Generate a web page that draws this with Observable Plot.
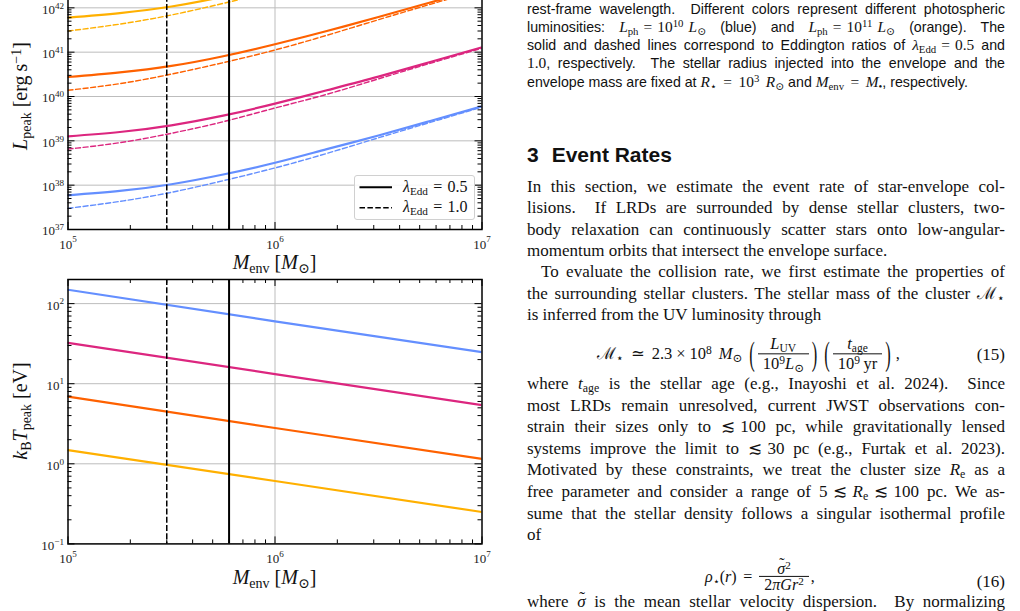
<!DOCTYPE html>
<html><head><meta charset="utf-8">
<script src="https://cdn.jsdelivr.net/npm/d3@7"></script>
<script src="https://cdn.jsdelivr.net/npm/@observablehq/plot@0.6"></script>
<style>
html,body{margin:0;padding:0;background:#fff;width:1020px;height:611px;overflow:hidden;position:relative}
.chart{position:absolute;left:0;width:490px}
.lab{position:absolute;font-family:"Liberation Serif","DejaVu Serif",serif;font-size:20px;line-height:1;white-space:nowrap;color:#111}
.xlab{transform:translate(-50%,-50%)}
.ylab{transform:translate(-50%,-50%) rotate(-90deg)}
sub{font-size:70%;vertical-align:-0.25em;line-height:0}
sup{font-size:70%;vertical-align:0.45em;line-height:0}
#legend{position:absolute;left:354px;top:174.5px;width:119px;height:43px;border:1px solid #d0d0d0;border-radius:3px;background:rgba(255,255,255,0.85)}
#legend svg{position:absolute;left:0;top:0}
#legend .lt{position:absolute;left:48px;font-family:"Liberation Serif","DejaVu Serif",serif;font-size:16px;line-height:1;white-space:nowrap;color:#111}
.ln{position:absolute;left:527px;width:478px;line-height:1;text-align:justify;text-align-last:justify;color:#111}
.ln.end{text-align-last:left}
.cap{font-family:"Liberation Sans",Arial,sans-serif;font-size:14.2px;height:14.2px}
.cap .m{font-family:"Liberation Serif","DejaVu Serif",serif;font-size:15.4px;line-height:0}
.body{font-family:"Liberation Serif","DejaVu Serif",serif;font-size:17px;height:17px}
.m{line-height:0}
h2{position:absolute;left:527px;top:143.9px;margin:0;font-family:"Liberation Sans",Arial,sans-serif;font-weight:bold;font-size:21px;line-height:1;white-space:nowrap;color:#111}
.eq{position:absolute;display:flex;align-items:center;transform:translateY(-50%);white-space:nowrap;font-family:"Liberation Serif","DejaVu Serif",serif;font-size:16.5px;line-height:1;color:#111}
.frac{display:inline-flex;flex-direction:column;align-items:stretch;margin:0 2px}
.frac>span{display:block;text-align:center;padding:0 5px;line-height:0.95}
.frac .num{border-bottom:0.9px solid #111;padding-bottom:1px}
.frac .den{padding-top:2px}
.eq16 .frac>span{line-height:0.85}
.eq16 .frac .den{padding-top:1px}
.bp{display:inline-block;transform:scaleY(2.1);line-height:1;font-weight:normal;margin:0 1px}
.eqn{position:absolute;left:527px;width:478px;text-align:right;font-family:"Liberation Serif","DejaVu Serif",serif;font-size:17px;line-height:1;color:#111}
.tl{position:relative;display:inline-block}
.tl::after{content:"˜";position:absolute;left:0.12em;top:-0.28em;font-style:normal}
.sp{display:inline-block;width:0.33em}
.sl{display:inline-block;width:0.42em}
.ss{display:inline-block;width:0.24em}
</style></head><body>
<div id="topChart" class="chart" style="top:-40.7px"></div>
<div id="botChart" class="chart" style="top:268.9px"></div>

<div class="lab xlab" style="left:274.5px;top:262.3px"><i>M</i><sub>env</sub> [<i>M</i><sub>⊙</sub>]</div>
<div class="lab xlab" style="left:274.5px;top:576.5px"><i>M</i><sub>env</sub> [<i>M</i><sub>⊙</sub>]</div>
<div class="lab ylab" style="left:20.3px;top:96.3px"><i>L</i><sub>peak</sub> [erg&#8201;s<sup>−1</sup>]</div>
<div class="lab ylab" style="left:20.3px;top:411.1px"><i>k</i><sub>B</sub><i>T</i><sub>peak</sub> [eV]</div>

<div id="legend">
  <svg width="119" height="43">
    <line x1="4.5" x2="37" y1="11.2" y2="11.2" stroke="#000" stroke-width="2"/>
    <line x1="4.5" x2="37" y1="31.8" y2="31.8" stroke="#000" stroke-width="1.5" stroke-dasharray="5.5,2.4"/>
  </svg>
  <div class="lt" style="top:3.3px"><i>λ</i><sub>Edd</sub><span class="sp"></span>=<span class="sp"></span>0.5</div>
  <div class="lt" style="top:23.9px"><i>λ</i><sub>Edd</sub><span class="sp"></span>=<span class="sp"></span>1.0</div>
</div>

<!-- caption text -->
<div class="ln cap" style="top:1.5px">rest-frame wavelength.&nbsp; Different colors represent different photospheric</div>
<div class="ln cap" style="top:19.8px">luminosities: <span class="m"><i>L</i><sub>ph</sub><span class="sp"></span>=<span class="sp"></span>10<sup>10</sup><span class="sp"></span><i>L</i><sub>⊙</sub></span> (blue) and <span class="m"><i>L</i><sub>ph</sub><span class="sp"></span>=<span class="sp"></span>10<sup>11</sup><span class="sp"></span><i>L</i><sub>⊙</sub></span> (orange). The</div>
<div class="ln cap" style="top:38.1px">solid and dashed lines correspond to Eddington ratios of <span class="m"><i>λ</i><sub>Edd</sub><span class="sp"></span>=<span class="sp"></span>0.5</span> and</div>
<div class="ln cap" style="top:56.4px"><span class="m">1.0</span>, respectively.&nbsp; The stellar radius injected into the envelope and the</div>
<div class="ln cap end" style="top:74.7px">envelope mass are fixed at <span class="m"><i>R</i><sub>⋆</sub><span class="sl"></span>=<span class="sl"></span>10<sup>3</sup><span class="sl"></span><i>R</i><sub>⊙</sub></span> and <span class="m"><i>M</i><sub>env</sub><span class="sl"></span>=<span class="sl"></span><i>M</i><sub>•</sub></span>, respectively.</div>

<h2>3<span style="margin-left:13px">Event Rates</span></h2>

<div class="ln body" style="top:177.5px">In this section, we estimate the event rate of star-envelope col-</div>
<div class="ln body" style="top:199.1px">lisions.&nbsp; If LRDs are surrounded by dense stellar clusters, two-</div>
<div class="ln body" style="top:220.7px">body relaxation can continuously scatter stars onto low-angular-</div>
<div class="ln body end" style="top:242.3px">momentum orbits that intersect the envelope surface.</div>
<div class="ln body" style="top:263px;left:541px;width:464px">To evaluate the collision rate, we first estimate the properties of</div>
<div class="ln body" style="top:284.6px">the surrounding stellar clusters. The stellar mass of the cluster <span class="m">ℳ<sub>⋆</sub></span></div>
<div class="ln body end" style="top:306.2px">is inferred from the UV luminosity through</div>

<div class="eq" style="left:597px;top:354.3px">
  <span style="margin-right:6px">ℳ<sub>⋆</sub><span class="sl"></span>≃<span class="sl"></span>2.3<span class="ss"></span>×<span class="ss"></span>10<sup>8</sup><span class="sl"></span><i>M</i><sub>⊙</sub></span>
  <span class="bp">(</span>
  <span class="frac"><span class="num"><i>L</i><sub>UV</sub></span><span class="den">10<sup>9</sup><i>L</i><sub>⊙</sub></span></span>
  <span class="bp">)</span>
  <span class="bp" style="margin-left:6px">(</span>
  <span class="frac"><span class="num"><i>t</i><sub>age</sub></span><span class="den">10<sup>9</sup>&#8201;yr</span></span>
  <span class="bp">)</span>
  <span style="margin-left:4px">,</span>
</div>
<div class="eqn" style="top:345.8px">(15)</div>

<div class="ln body" style="top:374.9px">where <span class="m"><i>t</i><sub>age</sub></span> is the stellar age (e.g., Inayoshi et al. 2024).&nbsp; Since</div>
<div class="ln body" style="top:396.5px">most LRDs remain unresolved, current JWST observations con-</div>
<div class="ln body" style="top:418.1px">strain their sizes only to <span class="m">≲<span class="sp"></span>100 pc</span>, while gravitationally lensed</div>
<div class="ln body" style="top:439.7px">systems improve the limit to <span class="m">≲<span class="sp"></span>30 pc</span> (e.g., Furtak et al. 2023).</div>
<div class="ln body" style="top:461.3px">Motivated by these constraints, we treat the cluster size <span class="m"><i>R</i><sub>e</sub></span> as a</div>
<div class="ln body" style="top:482.9px">free parameter and consider a range of <span class="m">5<span class="sp"></span>≲<span class="sp"></span><i>R</i><sub>e</sub><span class="sp"></span>≲<span class="sp"></span>100 pc</span>. We as-</div>
<div class="ln body" style="top:504.5px">sume that the stellar density follows a singular isothermal profile</div>
<div class="ln body end" style="top:526.1px">of</div>

<div class="eq eq16" style="left:705px;top:576.5px;font-size:16px">
  <span style="margin-right:5px"><i>ρ</i><sub>⋆</sub>(<i>r</i>)<span class="sl"></span>=</span>
  <span class="frac"><span class="num"><i class="tl">σ</i><sup>2</sup></span><span class="den">2<i>πGr</i><sup>2</sup></span></span>
  <span>,</span>
</div>
<div class="eqn" style="top:572.8px">(16)</div>

<div class="ln body" style="top:593.3px">where <span class="m"><i class="tl">σ</i></span> is the mean stellar velocity dispersion.&nbsp; By normalizing</div>

<script>
// ---------------- data ----------------
const envMass        = [1.0e5, 1.78e5, 3.16e5, 5.62e5, 1.0e6, 1.78e6, 3.16e6, 5.62e6, 1.0e7];
// L_peak [erg/s], lambda_Edd = 0.5 (solid) and 1.0 (dashed)
const lpeakBlue05    = [5.9e37, 7.4e37, 1.05e38, 1.74e38, 3.2e38, 6.5e38, 1.32e39, 2.8e39, 6.0e39];
const lpeakBlue10    = [3.0e37, 4.3e37, 6.9e37, 1.26e38, 2.45e38, 5.2e38, 1.17e39, 2.6e39, 5.8e39];
const lpeakMagenta05 = [1.26e39, 1.58e39, 2.24e39, 3.7e39, 6.9e39, 1.38e40, 2.8e40, 6.0e40, 1.29e41];
const lpeakMagenta10 = [6.5e38, 9.1e38, 1.48e39, 2.7e39, 5.5e39, 1.12e40, 2.5e40, 5.6e40, 1.23e41];
const lpeakOrange05  = [2.75e40, 3.5e40, 4.9e40, 8.1e40, 1.51e41, 3.0e41, 6.2e41, 1.32e42, 2.8e42];
const lpeakOrange10  = [1.38e40, 1.95e40, 3.2e40, 5.8e40, 1.12e41, 2.4e41, 5.4e41, 1.2e42, 2.6e42];
const lpeakGold05    = [6.0e41, 7.6e41, 1.07e42, 1.78e42, 3.3e42, 6.6e42, 1.35e43, 2.9e43, 6.2e43];
const lpeakGold10    = [3.0e41, 4.3e41, 6.9e41, 1.26e42, 2.45e42, 5.2e42, 1.17e43, 2.6e43, 5.8e43];
// k_B T_peak [eV]
const tpeakMass      = [1e5, 1e6, 1e7];
const tpeakBlue      = [149, 60, 24.8];
const tpeakMagenta   = [32.4, 13.2, 5.4];
const tpeakOrange    = [6.9, 2.8, 1.15];
const tpeakGold      = [1.48, 0.61, 0.25];
// reference masses (vertical lines)
const refMassDashed  = [3e5];
const refMassSolid   = [6e5];
// series colors
const seriesColor = {blue:"#648FFF", magenta:"#DC267F", orange:"#FE6100", gold:"#FFB000"};
// tick values
const xTickValues     = [1e5, 1e6, 1e7];
const lpeakTickValues = [1e37, 1e38, 1e39, 1e40, 1e41, 1e42, 1e43];
const lpeakTickLabels = [1e37, 1e38, 1e39, 1e40, 1e41, 1e42];
const tpeakTickValues = [1e-1, 1e0, 1e1, 1e2];

// ---------------- helpers ----------------
const W = 490, ML = 67.5, MR = 8.5, PW = W - ML - MR;
const fmtPow = d => "10^" + Math.round(Math.log10(d));
const minorOf = (majors, lo, hi) => majors.flatMap(m => [2,3,4,5,6,7,8,9].map(k => k*m)).filter(v => v > lo && v < hi);

function frameTicks(xMaj, xMin, yMaj, yMin, PH) {
  const L = 7, l = 4, s = {stroke:"#000", strokeWidth:1};
  return [
    Plot.ruleX(xMaj, {x: d=>d, insetTop: PH-L, ...s}),
    Plot.ruleX(xMaj, {x: d=>d, insetBottom: PH-L, ...s}),
    Plot.ruleX(xMin, {x: d=>d, insetTop: PH-l, ...s}),
    Plot.ruleX(xMin, {x: d=>d, insetBottom: PH-l, ...s}),
    Plot.ruleY(yMaj, {y: d=>d, insetRight: PW-L, ...s}),
    Plot.ruleY(yMaj, {y: d=>d, insetLeft: PW-L, ...s}),
    Plot.ruleY(yMin, {y: d=>d, insetRight: PW-l, ...s}),
    Plot.ruleY(yMin, {y: d=>d, insetLeft: PW-l, ...s})
  ];
}
function rows(xs, ys) { return xs.map((x,i) => ({x, y: ys[i]})); }
function superscriptTicks(svg) {
  const ns = "http://www.w3.org/2000/svg";
  svg.querySelectorAll("text").forEach(t => {
    const m = /^10\^(.+)$/.exec(t.textContent.trim());
    if (!m) return;
    const isY = !!t.closest('[aria-label^="y-axis"]');
    while (t.firstChild) t.removeChild(t.firstChild);
    const a = document.createElementNS(ns, "tspan"); a.textContent = "10"; t.appendChild(a);
    const b = document.createElementNS(ns, "tspan");
    b.setAttribute("dy", isY ? "-0.58em" : "-0.7em"); b.setAttribute("font-size", "0.7em");
    b.textContent = m[1].replace("-", "−"); t.appendChild(b);
    if (isY) {
      const y = t.getAttribute("y");
      if (y && y.endsWith("em")) t.setAttribute("y", "0.46em"); else t.setAttribute("dy", "0.46em");
    }
  });
}
const chartStyle = {fontFamily: "'Liberation Serif','DejaVu Serif',serif", fontSize: "13px", color: "#222", background: "transparent", overflow: "visible"};
const vlines = [
  Plot.ruleX(refMassDashed, {x: d=>d, stroke:"#000", strokeWidth:1.5, strokeDasharray:"6,2.2"}),
  Plot.ruleX(refMassSolid,  {x: d=>d, stroke:"#000", strokeWidth:2})
];

// ---------------- top panel: L_peak ----------------
{
  const PH = 266;
  const lpeakSeries = [
    [lpeakBlue05, "blue", false], [lpeakBlue10, "blue", true],
    [lpeakMagenta05, "magenta", false], [lpeakMagenta10, "magenta", true],
    [lpeakOrange05, "orange", false], [lpeakOrange10, "orange", true],
    [lpeakGold05, "gold", false], [lpeakGold10, "gold", true]
  ];
  const yMin = minorOf(lpeakTickValues, 1e37, 1e43);
  const xMin = minorOf(xTickValues, 1e5, 1e7);
  const svg = Plot.plot({
    width: W, height: 300, marginLeft: ML, marginRight: MR, marginTop: 4, marginBottom: 30,
    style: chartStyle,
    x: {type: "log", domain: [1e5, 1e7], ticks: xTickValues, tickFormat: fmtPow, tickSize: 0, tickPadding: 9.8, label: null},
    y: {type: "log", domain: [1e37, 1e43], ticks: lpeakTickLabels, tickFormat: fmtPow, tickSize: 0, tickPadding: 4, label: null},
    marks: [
      Plot.ruleY(lpeakTickValues.slice(1, -1), {y: d=>d, stroke: "#bdbdbd", strokeWidth: 1}),
      Plot.ruleX([1e6], {x: d=>d, stroke: "#bdbdbd", strokeWidth: 1}),
      ...lpeakSeries.map(([vals, c, dashed]) => Plot.line(rows(envMass, vals), {
        x: "x", y: "y", stroke: seriesColor[c], strokeWidth: dashed ? 1.4 : 2.2,
        strokeDasharray: dashed ? "5,2.6" : null, curve: "natural", clip: true
      })),
      ...vlines,
      ...frameTicks(xTickValues, xMin, lpeakTickValues, yMin, PH),
      Plot.frame({stroke: "#000", strokeWidth: 1.5})
    ]
  });
  superscriptTicks(svg);
  document.getElementById("topChart").appendChild(svg);
}

// ---------------- bottom panel: k_B T_peak ----------------
{
  const PH = 264.4;
  const tpeakSeries = [[tpeakBlue, "blue"], [tpeakMagenta, "magenta"], [tpeakOrange, "orange"], [tpeakGold, "gold"]];
  const yMin = minorOf(tpeakTickValues, 0.1, 200);
  const xMin = minorOf(xTickValues, 1e5, 1e7);
  const svg = Plot.plot({
    width: W, height: 305, marginLeft: ML, marginRight: MR, marginTop: 10, marginBottom: 30.6,
    style: chartStyle,
    x: {type: "log", domain: [1e5, 1e7], ticks: xTickValues, tickFormat: fmtPow, tickSize: 0, tickPadding: 9.8, label: null},
    y: {type: "log", domain: [0.1, 200], ticks: tpeakTickValues, tickFormat: fmtPow, tickSize: 0, tickPadding: 4, label: null},
    marks: [
      Plot.ruleY(tpeakTickValues.slice(1), {y: d=>d, stroke: "#bdbdbd", strokeWidth: 1}),
      Plot.ruleX([1e6], {x: d=>d, stroke: "#bdbdbd", strokeWidth: 1}),
      ...tpeakSeries.map(([vals, c]) => Plot.line(rows(tpeakMass, vals), {
        x: "x", y: "y", stroke: seriesColor[c], strokeWidth: 2.2, clip: true
      })),
      ...vlines,
      ...frameTicks(xTickValues, xMin, tpeakTickValues, yMin, PH),
      Plot.frame({stroke: "#000", strokeWidth: 1.5})
    ]
  });
  superscriptTicks(svg);
  document.getElementById("botChart").appendChild(svg);
}

// keep each justified text line on a single line
document.querySelectorAll(".ln").forEach(el => {
  const h = parseFloat(getComputedStyle(el).fontSize);
  let ws = 0;
  while (el.scrollHeight > h * 1.6 && ws > -5) { ws -= 0.25; el.style.wordSpacing = ws + "px"; }
});
</script>
</body></html>
